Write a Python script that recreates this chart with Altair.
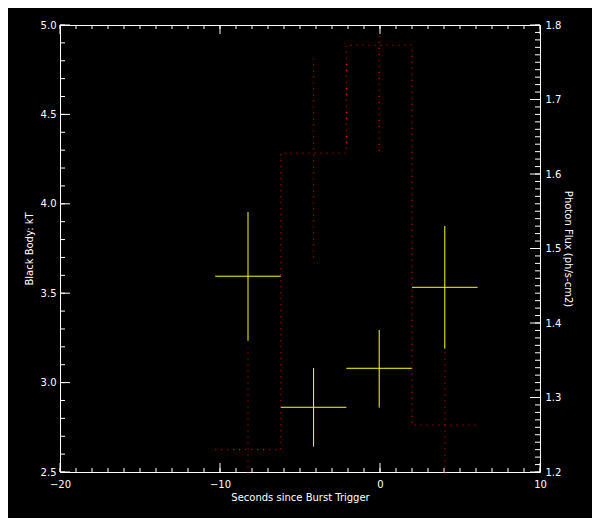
import altair as alt
import numpy as np
import pandas as pd

# ---- data ----
bin_lo = [-10.3, -6.2, -2.1, 2.0]
bin_hi = [-6.2, -2.1, 2.0, 6.1]
t_mid = [-8.25, -4.15, -0.05, 4.05]
kt = [3.595, 2.862, 3.08, 3.533]
kt_lo = [3.234, 2.642, 2.86, 3.19]
kt_hi = [3.954, 3.082, 3.294, 3.876]
flux = [1.23, 1.628, 1.773, 1.263]
flux_lo = [1.198, 1.488, 1.631, 1.198]
flux_hi = [1.368, 1.762, 1.793, 1.362]

x_major = [-20, -10, 0, 10]
x_minor = list(range(-20, 11))
kt_major = [2.5, 3.0, 3.5, 4.0, 4.5, 5.0]
kt_minor = [round(float(v), 2) for v in np.arange(2.5, 5.0001, 0.1)]
flux_major = [1.2, 1.3, 1.4, 1.5, 1.6, 1.7, 1.8]
flux_minor = [round(float(v), 2) for v in np.arange(1.2, 1.8001, 0.01)]

W, H = 480, 447
FONT = "DejaVu Sans"
YEL = "#ffff00"
RED = "#ff0000"

xs = alt.Scale(domain=[-20, 10], nice=False, zero=False)
kts = alt.Scale(domain=[2.5, 5.0], nice=False, zero=False)
fls = alt.Scale(domain=[1.2, 1.8], nice=False, zero=False)

pts = pd.DataFrame({"lo": bin_lo, "hi": bin_hi, "t": t_mid, "kt": kt,
                    "kt_lo": kt_lo, "kt_hi": kt_hi, "flux": flux,
                    "flux_lo": flux_lo, "flux_hi": flux_hi})
step = pd.DataFrame({"x": bin_lo + [bin_hi[-1]], "y": flux + [flux[-1]]})

X_AXIS = dict(values=x_major, format="d", ticks=False, domain=False, grid=False,
              labelFlush=False, labelPadding=7,
              title="Seconds since Burst Trigger", titlePadding=3)


def X(field):
    # identical axis definition on every layer so the shared x axis merges
    return alt.X(field, scale=xs, axis=alt.Axis(**X_AXIS))


kt_axis = alt.Axis(values=kt_major, format=".1f", ticks=False, domain=False, grid=False,
                   labelFlush=False, orient="left", labelPadding=4,
                   title="Black Body: kT", titlePadding=6)
fl_axis = alt.Axis(values=flux_major, format=".1f", ticks=False, domain=False, grid=False,
                   labelFlush=False, orient="right", labelPadding=5,
                   title="Photon Flux (ph/s-cm2)", titlePadding=2)

# yellow crosses (kT) -- carries the left axis
hbar = alt.Chart(pts).mark_rule(color=YEL, strokeWidth=1).encode(
    x=X("lo:Q"), x2="hi:Q",
    y=alt.Y("kt:Q", scale=kts, axis=kt_axis))
vbar = alt.Chart(pts).mark_rule(color=YEL, strokeWidth=1).encode(
    x=X("t:Q"),
    y=alt.Y("kt_lo:Q", scale=kts, axis=None), y2="kt_hi:Q")

# red dotted photon flux history -- carries the right axis
line = alt.Chart(step).mark_line(color=RED, strokeWidth=1, strokeDash=[1, 5],
                                 interpolate="step-after").encode(
    x=X("x:Q"),
    y=alt.Y("y:Q", scale=fls, axis=fl_axis))
ferr = alt.Chart(pts).mark_rule(color=RED, strokeWidth=1, strokeDash=[1, 5]).encode(
    x=X("t:Q"),
    y=alt.Y("flux_lo:Q", scale=fls, axis=None), y2="flux_hi:Q")


def vticks(vals, scale, length, side):
    df = pd.DataFrame({"v": vals})
    if side == "left":
        xa, xb = alt.value(0), alt.value(length)
    else:
        xa, xb = alt.value(W - length), alt.value(W)
    return alt.Chart(df).mark_rule(color="white", strokeWidth=1).encode(
        y=alt.Y("v:Q", scale=scale, axis=None), x=xa, x2=xb)


def hticks(vals, length, side):
    df = pd.DataFrame({"v": vals})
    if side == "bottom":
        ya, yb = alt.value(H), alt.value(H - length)
    else:
        ya, yb = alt.value(0), alt.value(length)
    return alt.Chart(df).mark_rule(color="white", strokeWidth=1).encode(
        x=X("v:Q"), y=ya, y2=yb)


chart = alt.layer(
    hbar, line, vbar, ferr,
    vticks(kt_minor, kts, 5, "left"), vticks(kt_major, kts, 10, "left"),
    vticks(flux_minor, fls, 5, "right"), vticks(flux_major, fls, 10, "right"),
    hticks(x_minor, 4, "bottom"), hticks(x_major, 9, "bottom"),
    hticks(x_minor, 4, "top"), hticks(x_major, 9, "top"),
).resolve_scale(y="independent").properties(
    width=W, height=H,
    autosize=alt.AutoSizeParams(type="none"),
    padding={"left": 52, "top": 17, "right": 52, "bottom": 46},
    background="black",
    usermeta={"embedOptions": {"defaultStyle": "body{background:#000;}"}},
).configure_view(stroke="white", strokeWidth=1).configure_axis(
    labelFont=FONT, labelFontSize=10, labelColor="white",
    titleFont=FONT, titleFontSize=10, titleColor="white", titleFontWeight="normal",
)

chart.save("out.html", embed_options={"renderer": "svg", "actions": False})
